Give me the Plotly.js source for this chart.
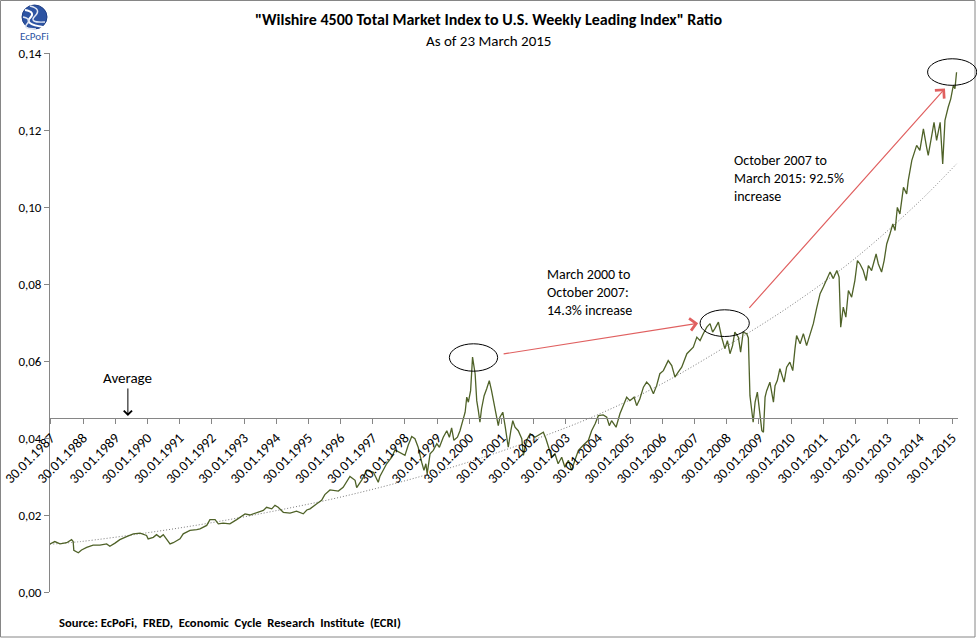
<!DOCTYPE html>
<html>
<head>
<meta charset="utf-8">
<script src="https://cdn.plot.ly/plotly-3.0.1.min.js"></script>
<style>html,body{margin:0;padding:0;background:#fff;}#chart{width:977px;height:639px;}</style>
</head>
<body>
<div id="chart"></div>
<script>
// ---- data ----
const ratioYears = [
1987.05,1987.20,1987.36,1987.57,1987.72,1987.77,1987.79,1987.93,1988.03,1988.19,1988.39,1988.60,1988.81,1988.91,
1989.07,1989.22,1989.43,1989.64,1989.85,1990.05,1990.10,1990.26,1990.36,1990.47,1990.57,1990.68,1990.78,1990.88,
1991.09,1991.19,1991.40,1991.61,1991.71,1991.92,1992.02,1992.18,1992.28,1992.43,1992.64,1992.85,1992.95,
1993.11,1993.26,1993.47,1993.68,1993.78,1993.94,1994.04,1994.14,1994.30,1994.51,1994.71,1994.92,1995.03,
1995.13,1995.34,1995.49,1995.59,1995.75,1996.01,1996.16,1996.37,1996.53,1996.58,1996.74,1996.89,
1997.10,1997.25,1997.30,1997.51,1997.67,1997.77,1997.93,1998.08,1998.18,1998.29,1998.39,1998.49,1998.60,
1998.67,1998.73,1998.77,1998.86,1998.96,1999.07,1999.15,1999.27,1999.38,1999.46,1999.53,1999.60,1999.71,
1999.79,1999.87,1999.95,2000.00,2000.05,2000.12,2000.18,2000.26,2000.31,2000.36,2000.41,2000.46,2000.54,
2000.62,2000.70,2000.77,2000.85,2000.93,2000.98,2001.03,2001.12,2001.19,2001.24,2001.29,2001.37,2001.43,
2001.50,2001.60,2001.71,2001.76,2001.86,2001.97,2002.12,2002.28,2002.38,2002.46,2002.56,2002.64,2002.74,
2002.84,2002.95,2003.05,2003.16,2003.26,2003.36,2003.47,2003.62,2003.78,2003.88,2003.99,2004.09,2004.24,
2004.35,2004.43,2004.50,2004.64,2004.76,2004.87,2004.97,2005.07,2005.20,2005.28,2005.38,2005.49,2005.59,
2005.69,2005.80,2005.90,2006.00,2006.11,2006.26,2006.37,2006.47,2006.57,2006.68,2006.84,2006.94,2007.04,
2007.15,2007.25,2007.35,2007.46,2007.56,2007.64,2007.71,2007.82,2007.92,2008.02,2008.10,2008.18,2008.26,
2008.33,2008.44,2008.51,2008.59,2008.70,2008.75,2008.78,2008.80,2008.90,2008.96,2009.03,2009.09,2009.17,
2009.22,2009.27,2009.32,2009.42,2009.53,2009.58,2009.65,2009.73,2009.86,2009.94,2010.04,2010.13,2010.20,
2010.25,2010.36,2010.46,2010.56,2010.67,2010.77,2010.87,2010.98,2011.08,2011.18,2011.29,2011.39,2011.50,
2011.57,2011.62,2011.70,2011.78,2011.86,2011.96,2012.06,2012.14,2012.22,2012.32,2012.41,2012.48,2012.58,
2012.72,2012.79,2012.89,2012.97,2013.05,2013.15,2013.24,2013.31,2013.38,2013.46,2013.57,2013.67,2013.72,
2013.83,2013.98,2014.08,2014.19,2014.29,2014.34,2014.45,2014.52,2014.60,2014.71,2014.79,2014.86,2014.96,
2015.04,2015.12,2015.17,2015.22
];
const ratioValues = [
0.0125,0.0131,0.0125,0.0128,0.0136,0.0131,0.0108,0.0102,0.0109,0.0116,0.0122,0.0122,0.0125,0.0119,
0.0127,0.0136,0.0144,0.0151,0.0153,0.0147,0.0138,0.0142,0.0149,0.0142,0.0149,0.0136,0.0125,0.0128,
0.0138,0.0151,0.0160,0.0162,0.0164,0.0173,0.0188,0.0188,0.0177,0.0179,0.0177,0.0188,0.0194,
0.0203,0.0200,0.0205,0.0212,0.0220,0.0216,0.0225,0.0220,0.0207,0.0205,0.0210,0.0203,0.0213,
0.0216,0.0229,0.0238,0.0253,0.0265,0.0262,0.0272,0.0300,0.0290,0.0271,0.0291,0.0316,
0.0311,0.0285,0.0300,0.0333,0.0350,0.0369,0.0361,0.0355,0.0381,0.0404,0.0398,0.0376,0.0337,
0.0316,0.0333,0.0307,0.0359,0.0368,0.0385,0.0376,0.0402,0.0419,0.0402,0.0426,0.0394,0.0402,
0.0419,0.0445,0.0467,0.0506,0.0493,0.0523,0.0610,0.0567,0.0497,0.0471,0.0441,0.0476,0.0510,
0.0528,0.0549,0.0523,0.0489,0.0454,0.0432,0.0454,0.0467,0.0432,0.0402,0.0376,0.0419,0.0445,
0.0428,0.0419,0.0398,0.0355,0.0394,0.0411,0.0402,0.0411,0.0415,0.0398,0.0372,0.0350,0.0359,
0.0333,0.0350,0.0324,0.0342,0.0316,0.0342,0.0368,0.0381,0.0394,0.0419,0.0437,0.0458,0.0460,
0.0454,0.0432,0.0445,0.0428,0.0463,0.0484,0.0506,0.0497,0.0506,0.0484,0.0502,0.0532,0.0545,
0.0536,0.0515,0.0536,0.0567,0.0575,0.0601,0.0588,0.0558,0.0571,0.0584,0.0619,0.0627,0.0636,
0.0662,0.0653,0.0671,0.0688,0.0697,0.0675,0.0684,0.0701,0.0662,0.0632,0.0653,0.0619,0.0640,
0.0675,0.0662,0.0623,0.0675,0.0671,0.0660,0.0580,0.0510,0.0441,0.0493,0.0519,0.0480,0.0419,
0.0415,0.0506,0.0523,0.0545,0.0493,0.0536,0.0549,0.0580,0.0545,0.0584,0.0597,0.0575,0.0632,
0.0666,0.0645,0.0671,0.0640,0.0671,0.0697,0.0736,0.0775,0.0792,0.0809,0.0831,0.0814,0.0835,
0.0818,0.0688,0.0740,0.0714,0.0783,0.0766,0.0809,0.0861,0.0852,0.0835,0.0809,0.0848,0.0835,
0.0878,0.0852,0.0831,0.0861,0.0904,0.0930,0.0956,0.0939,0.0999,0.0982,0.1051,0.1034,0.1069,
0.1121,0.1160,0.1147,0.1203,0.1155,0.1134,0.1186,0.1220,0.1173,0.1220,0.1112,0.1225,0.1259,
0.1281,0.1316,0.1307,0.1350
];
// dotted trend line, read at roughly two-year steps
const trendYears  = [1987.05,1988.0,1990.0,1992.0,1994.0,1996.0,1998.0,2000.0,2002.0,2004.0,2006.0,2008.0,2010.0,2012.0,2014.0,2015.22];
const trendValues = [0.0124,0.0131,0.0153,0.0179,0.0210,0.0245,0.0287,0.0336,0.0393,0.0458,0.0538,0.0635,0.0740,0.0862,0.1009,0.1112];
// average (x axis crossing)
const averageValue = 0.0452;
// category tick labels
const tickYears  = [1987,1988,1989,1990,1991,1992,1993,1994,1995,1996,1997,1998,1999,2000,2001,2002,2003,2004,2005,2006,2007,2008,2009,2010,2011,2012,2013,2014,2015];
const tickLabels = tickYears.map(y => '30.01.' + y);
const tickValues = tickYears.map(y => y + 29/365);

// ---- layout helpers ----
const W = 977, H = 639;
const M = {l: 50, r: 19, t: 53, b: 47};
const plotW = W - M.l - M.r, plotH = H - M.t - M.b;
const xRange = [1987.05, 2015.265], yRange = [0, 0.14];
const PX = p => (p - M.l) / plotW;            // pixel -> paper x
const PY = p => (H - M.b - p) / plotH;        // pixel -> paper y
const DX = t => (t - xRange[0]) / (xRange[1] - xRange[0]);  // data -> paper x
const DY = v => (v - yRange[0]) / (yRange[1] - yRange[0]);  // data -> paper y
const FONT = "Carlito, Lato, 'Open Sans', sans-serif";

function ellipse(t0, t1, v0, v1) {
  return {type: 'circle', xref: 'paper', yref: 'paper',
    x0: DX(t0), x1: DX(t1), y0: DY(v0), y1: DY(v1),
    line: {color: '#000', width: 1}};
}

const traces = [
  {x: trendYears, y: trendValues, type: 'scatter', mode: 'lines',
   line: {color: '#7a7a7a', width: 1, dash: '1px,2px', shape: 'spline'}, hoverinfo: 'skip'},
  {x: ratioYears, y: ratioValues, type: 'scatter', mode: 'lines',
   line: {color: '#4f6228', width: 1.3}}
];

const layout = {
  width: W, height: H, margin: M, showlegend: false,
  paper_bgcolor: '#fff', plot_bgcolor: '#fff',
  separators: ',.',
  font: {family: FONT, color: '#000', size: 12},
  xaxis: {
    range: xRange, anchor: 'free', position: DY(averageValue),
    tickmode: 'array', tickvals: tickValues, ticktext: tickLabels,
    tickangle: -45, ticks: 'outside', ticklen: 5, tickcolor: '#868686',
    showline: true, linecolor: '#868686', linewidth: 1.3,
    showgrid: false, zeroline: false,
    tickfont: {family: FONT, size: 14, color: '#000'}
  },
  yaxis: {
    range: yRange, dtick: 0.02, tickformat: '.2f',
    ticks: 'outside', ticklen: 5, tickcolor: '#868686',
    showline: true, linecolor: '#868686', linewidth: 1,
    showgrid: false, zeroline: false,
    tickfont: {family: FONT, size: 13, color: '#000'}
  },
  shapes: [
    // outer chart border
    {type: 'rect', xref: 'paper', yref: 'paper', x0: PX(0.5), x1: PX(975), y0: PY(637), y1: PY(0.5),
     line: {color: '#868686', width: 1}},
    ellipse(1999.46, 2000.96, 0.05735, 0.06447),
    ellipse(2007.25, 2008.78, 0.06636, 0.0733),
    ellipse(2014.32, 2015.85, 0.1316, 0.1385),
    // logo
    {type: 'circle', xref: 'paper', yref: 'paper', x0: PX(22), x1: PX(47), y0: PY(29), y1: PY(5),
     fillcolor: '#2d54a3', line: {color: '#1f3f86', width: 1}},
    {type: 'path', xref: 'paper', yref: 'paper',
     path: `M ${PX(25)},${PY(10)} Q ${PX(36)},${PY(12)} ${PX(30)},${PY(18)} T ${PX(43)},${PY(27)}`,
     line: {color: '#ffffff', width: 2}},
    {type: 'path', xref: 'paper', yref: 'paper',
     path: `M ${PX(30)},${PY(6)} Q ${PX(42)},${PY(9)} ${PX(35)},${PY(16)} T ${PX(45)},${PY(22)}`,
     line: {color: '#dfe6f3', width: 1.5}},
    {type: 'path', xref: 'paper', yref: 'paper',
     path: `M ${PX(23)},${PY(17)} Q ${PX(32)},${PY(19)} ${PX(27)},${PY(24)} T ${PX(36)},${PY(29)}`,
     line: {color: '#dfe6f3', width: 1.5}}
  ],
  annotations: [
    {xref: 'paper', yref: 'paper', x: PX(488), y: PY(20), xanchor: 'center', yanchor: 'middle', showarrow: false,
     text: '<b>"Wilshire 4500 Total Market Index to U.S. Weekly Leading Index" Ratio</b>',
     font: {family: FONT, size: 16, color: '#000'}},
    {xref: 'paper', yref: 'paper', x: PX(488), y: PY(41), xanchor: 'center', yanchor: 'middle', showarrow: false,
     text: 'As of 23 March 2015', font: {family: FONT, size: 15, color: '#000'}},
    {xref: 'paper', yref: 'paper', x: PX(57), y: PY(622), xanchor: 'left', yanchor: 'middle', showarrow: false,
     text: '<b>Source: EcPoFi,  FRED,  Economic  Cycle  Research  Institute  (ECRI)</b>',
     font: {family: FONT, size: 12.6, color: '#000'}},
    {xref: 'paper', yref: 'paper', x: PX(34.5), y: PY(36), xanchor: 'center', yanchor: 'middle', showarrow: false,
     text: 'EcPoFi', font: {family: FONT, size: 11, color: '#2d54a3'}},
    // Average label + arrow
    {xref: 'x', yref: 'y', x: 1989.47, y: averageValue, text: 'Average', showarrow: true,
     ax: 0, ay: -40, arrowhead: 4, arrowsize: 1.6, arrowwidth: 1, arrowcolor: '#000', standoff: 2,
     font: {family: FONT, size: 15, color: '#000'}},
    // red arrows
    {xref: 'x', yref: 'y', x: 2007.19, y: 0.06982, text: '', showarrow: true,
     ax: -196, ay: 31, arrowhead: 4, arrowsize: 2, arrowwidth: 1.2, arrowcolor: '#e06060', standoff: 0},
    {xref: 'x', yref: 'y', x: 2014.86, y: 0.1308, text: '', showarrow: true,
     ax: -197, ay: 221, arrowhead: 4, arrowsize: 2, arrowwidth: 1.2, arrowcolor: '#e06060', standoff: 0},
    // text boxes
    {xref: 'x', yref: 'y', x: 2002.43, y: 0.0851, xanchor: 'left', yanchor: 'top', align: 'left', showarrow: false,
     text: 'March 2000 to<br>October 2007:<br>14.3% increase', font: {family: FONT, size: 14, color: '#000'}},
    {xref: 'x', yref: 'y', x: 2008.23, y: 0.1149, xanchor: 'left', yanchor: 'top', align: 'left', showarrow: false,
     text: 'October 2007 to<br>March 2015: 92.5%<br>increase', font: {family: FONT, size: 14, color: '#000'}}
  ]
};

Plotly.newPlot('chart', traces, layout, {displayModeBar: false, staticPlot: true});
</script>
</body>
</html>
